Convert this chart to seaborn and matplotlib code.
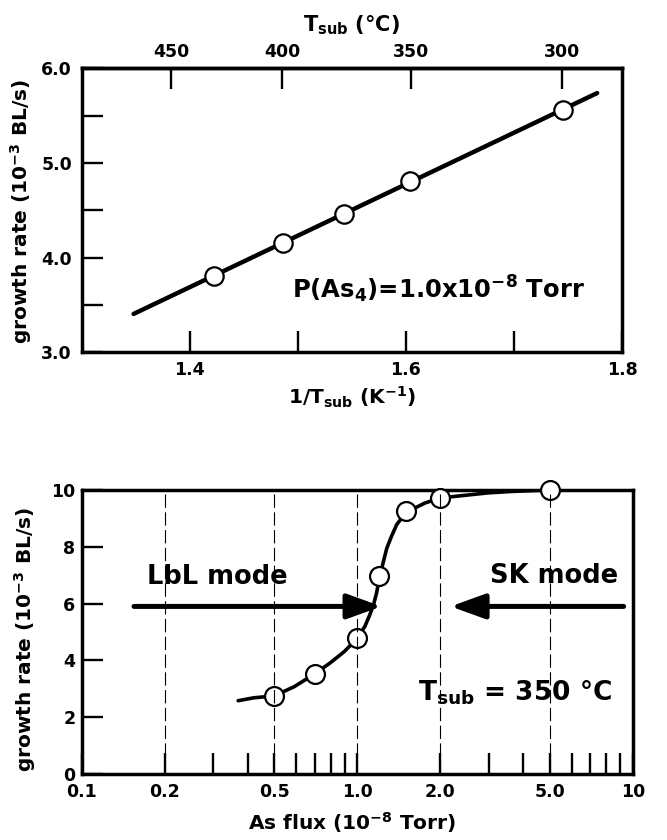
import numpy as np
import matplotlib
matplotlib.use('Agg')
import matplotlib.pyplot as plt
from matplotlib.ticker import FixedLocator, NullFormatter
import seaborn as sns

# --- top panel: growth rate vs 1/T (10^-3 K^-1) ---
inv_T = [1.422, 1.486, 1.543, 1.604, 1.745]
rate_T = [3.81, 4.15, 4.46, 4.81, 5.56]
fit_range = [1.348, 1.777]          # span of the drawn fit line
T_ticks_C = [450, 400, 350, 300]    # top axis, deg C
inv_ticks = [1.4, 1.6, 1.8]
inv_minor = [1.5, 1.7]
rate_T_ticks = [3.0, 4.0, 5.0, 6.0]
rate_T_minor = [3.5, 4.5, 5.5]

# --- bottom panel: growth rate vs As flux (10^-8 Torr) ---
flux = [0.5, 0.7, 1.0, 1.2, 1.5, 2.0, 5.0]
rate_flux = [2.75, 3.52, 4.78, 6.98, 9.25, 9.72, 10.0]
# guide-to-the-eye curve
curve_flux = [0.37, 0.42, 0.50, 0.59, 0.70, 0.80, 0.90, 1.00, 1.065, 1.11, 1.145,
              1.175, 1.20, 1.24, 1.28, 1.33, 1.39, 1.47, 1.53, 1.76, 2.00, 3.0, 3.66, 5.0]
curve_rate = [2.58, 2.68, 2.75, 3.07, 3.52, 3.92, 4.32, 4.78, 5.19, 5.60, 5.95,
              6.37, 6.85, 7.42, 7.95, 8.36, 8.78, 9.09, 9.25, 9.54, 9.72, 9.90, 9.95, 10.0]
grid_flux = [0.2, 0.5, 1.0, 2.0, 5.0]
flux_ticks = [0.1, 0.2, 0.5, 1.0, 2.0, 5.0, 10]
flux_labels = ['0.1', '0.2', '0.5', '1.0', '2.0', '5.0', '10']
flux_minor = [0.3, 0.4, 0.6, 0.7, 0.8, 0.9, 3, 4, 6, 7, 8, 9]
rate_flux_ticks = [0, 2, 4, 6, 8, 10]
lbl_arrow = [(0.155, 5.9), (1.225, 5.9)]   # tail, tip
sk_arrow = [(9.25, 5.9), (2.18, 5.9)]

sns.set_theme(style='ticks')
plt.rcParams['font.family'] = ['DejaVu Sans']
plt.rcParams.update({
    'font.weight': 'bold',
    'axes.labelweight': 'bold',
    'mathtext.default': 'bf',
    'axes.linewidth': 2.5,
    'axes.edgecolor': 'black',
    'axes.labelcolor': 'black',
    'text.color': 'black',
    'xtick.color': 'black',
    'ytick.color': 'black',
})

fig = plt.figure(figsize=(6.67, 8.4), dpi=100)
ax1 = fig.add_axes([0.1225, 0.5806, 0.8100, 0.3381])
ax2 = fig.add_axes([0.1222, 0.0786, 0.8268, 0.3381])

tick_kw = dict(direction='in', length=15, width=1.7, labelsize=12.5, colors='black')

# top panel
fit = np.polyfit(inv_T, rate_T, 1)
xs = np.array(fit_range)
sns.lineplot(x=xs, y=np.polyval(fit, xs), ax=ax1, color='black', lw=3.2, zorder=2)
sns.scatterplot(x=inv_T, y=rate_T, ax=ax1, s=175, color='white', edgecolor='black',
                linewidth=1.6, zorder=3)
ax1.set_xlim(1.3, 1.8)
ax1.set_ylim(3.0, 6.0)
ax1.set_xticks(inv_ticks)
ax1.set_xticklabels([f'{v:.1f}' for v in inv_ticks])
ax1.xaxis.set_minor_locator(FixedLocator(inv_minor))
ax1.set_yticks(rate_T_ticks)
ax1.set_yticklabels([f'{v:.1f}' for v in rate_T_ticks])
ax1.yaxis.set_minor_locator(FixedLocator(rate_T_minor))
ax1.tick_params(axis='both', which='both', top=False, right=False, **tick_kw)
ax1.tick_params(axis='x', which='both', pad=6.5)
ax1.tick_params(axis='y', which='both', pad=7)
ax1.set_xlabel(r'1/T$_{sub}$ (K$^{-1}$)', fontsize=14.5)
ax1.set_ylabel(r'growth rate (10$^{-3}$ BL/s)', fontsize=14.5)
ax1.xaxis.set_label_coords(0.5, -0.115)
ax1.yaxis.set_label_coords(-0.088, 0.495)

with np.errstate(divide='ignore'):
    sec = ax1.secondary_xaxis('top', functions=(lambda x: 1000.0 / x - 273.15,
                                                lambda t: 1000.0 / (t + 273.15)))
sec.set_xticks(T_ticks_C)
sec.set_xticklabels([str(t) for t in T_ticks_C])
sec.tick_params(axis='x', which='major', pad=5.5, **tick_kw)
sec.tick_params(axis='x', which='minor', length=0)
sec.spines['top'].set_linewidth(2.5)
sec.set_xlabel('T$_{sub}$ (°C)', fontsize=15, labelpad=8)
for s in ax1.spines.values():
    s.set_linewidth(2.5)

# bottom panel
ax2.set_xscale('log')
for v in grid_flux:
    ax2.axvline(v, color='black', lw=0.8, dashes=(12, 4), zorder=4)
sns.lineplot(x=curve_flux, y=curve_rate, ax=ax2, color='black', lw=2.6,
             sort=False, estimator=None, zorder=2)
sns.scatterplot(x=flux, y=rate_flux, ax=ax2, s=185, color='white', edgecolor='black',
                linewidth=1.6, zorder=3, clip_on=False)
for tail, tip in (lbl_arrow, sk_arrow):
    ax2.annotate('', xy=tip, xytext=tail,
                 arrowprops=dict(arrowstyle='-|>,head_length=1.05,head_width=0.38',
                                 mutation_scale=20, lw=3.6, color='black',
                                 shrinkA=0, shrinkB=0), zorder=5)
ax2.text(0.311, 6.68, 'LbL mode', ha='center', va='baseline', fontsize=18.5, fontweight='bold')
ax2.text(5.16, 6.72, 'SK mode', ha='center', va='baseline', fontsize=18.5, fontweight='bold')
ax2.text(3.745, 2.6, 'T$_{sub}$ = 350 °C', ha='center', va='baseline', fontsize=19,
         fontweight='bold')
ax1.text(1.63, 3.57, r'P(As$_4$)=1.0x10$^{-8}$ Torr', ha='center', va='baseline',
         fontsize=17.5, fontweight='bold')

ax2.set_xlim(0.1, 10)
ax2.set_ylim(0, 10)
ax2.xaxis.set_major_locator(FixedLocator(flux_ticks))
ax2.set_xticklabels(flux_labels)
ax2.xaxis.set_minor_locator(FixedLocator(flux_minor))
ax2.xaxis.set_minor_formatter(NullFormatter())
ax2.set_yticks(rate_flux_ticks)
ax2.set_yticklabels([str(v) for v in rate_flux_ticks])
ax2.tick_params(axis='both', which='both', top=False, right=False, **tick_kw)
ax2.tick_params(axis='x', which='both', pad=6.5)
ax2.tick_params(axis='y', which='both', pad=4.5)
ax2.set_xlabel(r'As flux (10$^{-8}$ Torr)', fontsize=14.5)
ax2.set_ylabel(r'growth rate (10$^{-3}$ BL/s)', fontsize=14.5)
ax2.xaxis.set_label_coords(0.491, -0.127)
ax2.yaxis.set_label_coords(-0.079, 0.475)
for s in ax2.spines.values():
    s.set_linewidth(2.5)

fig.savefig('out.png', dpi=100, facecolor='white')
